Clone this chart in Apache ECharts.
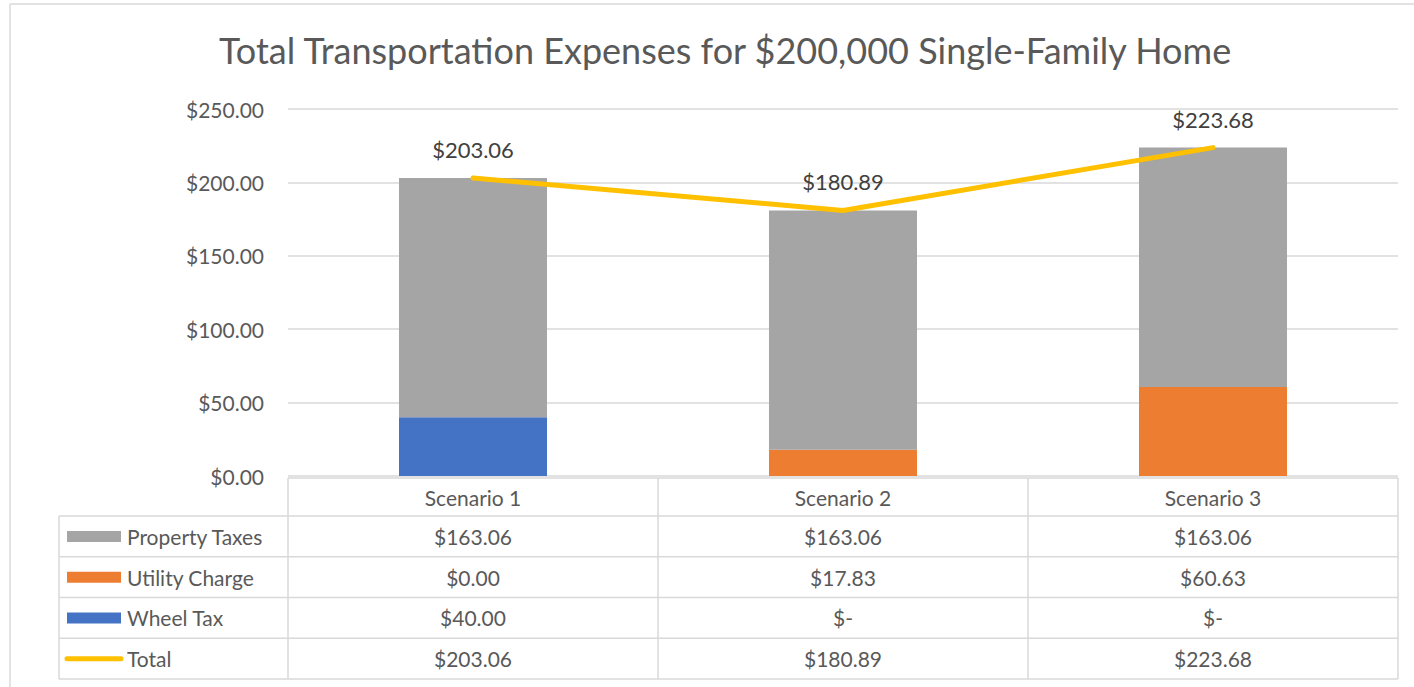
<!DOCTYPE html>
<html>
<head>
<meta charset="utf-8">
<title>Total Transportation Expenses</title>
<script src="https://cdn.jsdelivr.net/npm/echarts@6/dist/echarts.min.js"></script>
<style>
html, body { margin: 0; padding: 0; background: #fff; }
#main { width: 1414px; height: 687px; }
</style>
</head>
<body>
<div id="main"></div>
<script>
// data
var categories = ['Scenario 1', 'Scenario 2', 'Scenario 3'];
var propertyTaxes = [163.06, 163.06, 163.06];
var utilityCharge = [0, 17.83, 60.63];
var wheelTax = [40, 0, 0];
var totals = [203.06, 180.89, 223.68];
var yTicks = [0, 50, 100, 150, 200, 250];

// data table text, the way excel prints it (zero in accounting format = "$-")
var seriesNames = ['Property Taxes', 'Utility Charge', 'Wheel Tax', 'Total'];
var propertyTaxText = ['$163.06', '$163.06', '$163.06'];
var utilityText = ['$0.00', '$17.83', '$60.63'];
var wheelTaxText = ['$40.00', '$-', '$-'];
var totalText = ['$203.06', '$180.89', '$223.68'];

var FONT = 'Lato, "Open Sans", sans-serif';
var TXT = '#595959';
var GRID_CLR = '#D9D9D9';
var colors = ['#A5A5A5', '#ED7D31', '#4472C4', '#FFC000'];

var gridLeft = 288, gridRight = 16, gridTop = 109, gridBottom = 211;
var tableLeft = 59, tableTop = 478, headerH = 38, rowH = 40.75;

function money(v) {
    return '$' + v.toFixed(2);
}

var myChart = echarts.init(document.getElementById('main'), null, {renderer: 'svg'});

myChart.setOption({
    animation: false,
    title: {
        text: 'Total Transportation Expenses for $200,000 Single-Family Home',
        left: 214,
        top: 27,
        textStyle: {fontFamily: FONT, fontSize: 36, fontWeight: 'normal', color: TXT}
    },
    grid: {left: gridLeft, right: gridRight, top: gridTop, bottom: gridBottom},
    xAxis: {
        type: 'category',
        data: categories,
        axisLine: {show: false},
        axisTick: {show: false},
        axisLabel: {margin: 11, fontFamily: FONT, fontSize: 21, color: TXT}
    },
    yAxis: {
        type: 'value',
        min: yTicks[0],
        max: yTicks[yTicks.length - 1],
        interval: yTicks[1] - yTicks[0],
        axisLabel: {
            margin: 24, fontFamily: FONT, fontSize: 21, color: TXT,
            formatter: function (v) { return money(v); }
        },
        splitLine: {lineStyle: {color: GRID_CLR, width: 1.5}}
    },
    series: [
        {
            name: 'Wheel Tax', type: 'bar', stack: 'cost', barWidth: '40%',
            itemStyle: {color: colors[2]}, data: wheelTax
        },
        {
            name: 'Utility Charge', type: 'bar', stack: 'cost',
            itemStyle: {color: colors[1]}, data: utilityCharge
        },
        {
            name: 'Property Taxes', type: 'bar', stack: 'cost',
            itemStyle: {color: colors[0]}, data: propertyTaxes
        },
        {
            name: 'Total', type: 'line', symbol: 'circle', symbolSize: 1,
            itemStyle: {color: colors[3]},
            lineStyle: {color: colors[3], width: 5, cap: 'round'},
            label: {
                show: true, position: 'top', distance: 17,
                fontFamily: FONT, fontSize: 22, color: '#404040',
                formatter: function (p) { return money(p.value); }
            },
            data: totals
        }
    ]
});

// data table under the plot, lined up with the category axis
var rightEdge = 1414 - gridRight;
var rowTexts = [propertyTaxText, utilityText, wheelTaxText, totalText];
var g = [];

function hline(x1, x2, y) {
    g.push({type: 'line', shape: {x1: x1, y1: y, x2: x2, y2: y}, style: {stroke: GRID_CLR, lineWidth: 1.5}});
}
function vline(x, y1, y2) {
    g.push({type: 'line', shape: {x1: x, y1: y1, x2: x, y2: y2}, style: {stroke: GRID_CLR, lineWidth: 1.5}});
}

// chart frame (only top and left edges are in the shot)
hline(10, 1414, 4);
vline(10, 4, 687);

var tableBottom = tableTop + headerH + rowH * 4;
hline(gridLeft, rightEdge, tableTop);
for (var r = 0; r <= 4; r++) {
    hline(tableLeft, rightEdge, tableTop + headerH + rowH * r);
}
vline(tableLeft, tableTop + headerH, tableBottom);
var step = (rightEdge - gridLeft) / categories.length;
for (var c = 0; c <= categories.length; c++) {
    vline(gridLeft + step * c, tableTop, tableBottom);
}

for (var i = 0; i < seriesNames.length; i++) {
    var cy = tableTop + headerH + rowH * i + rowH / 2;
    if (i < 3) {
        g.push({type: 'rect', shape: {x: 67, y: cy - 5.5, width: 54, height: 11}, style: {fill: colors[i]}});
    } else {
        g.push({type: 'line', shape: {x1: 67, y1: cy, x2: 121, y2: cy}, style: {stroke: colors[3], lineWidth: 5, lineCap: 'round'}});
    }
    g.push({type: 'text', x: 127, y: cy, style: {
        text: seriesNames[i], fill: TXT, font: '21px ' + FONT, verticalAlign: 'middle', align: 'left'
    }});
    for (var k = 0; k < categories.length; k++) {
        var cx = myChart.convertToPixel({xAxisIndex: 0}, categories[k]);
        g.push({type: 'text', x: cx, y: cy, style: {
            text: rowTexts[i][k], fill: TXT, font: '21px ' + FONT, verticalAlign: 'middle', align: 'center'
        }});
    }
}

myChart.setOption({graphic: g});
</script>
</body>
</html>
